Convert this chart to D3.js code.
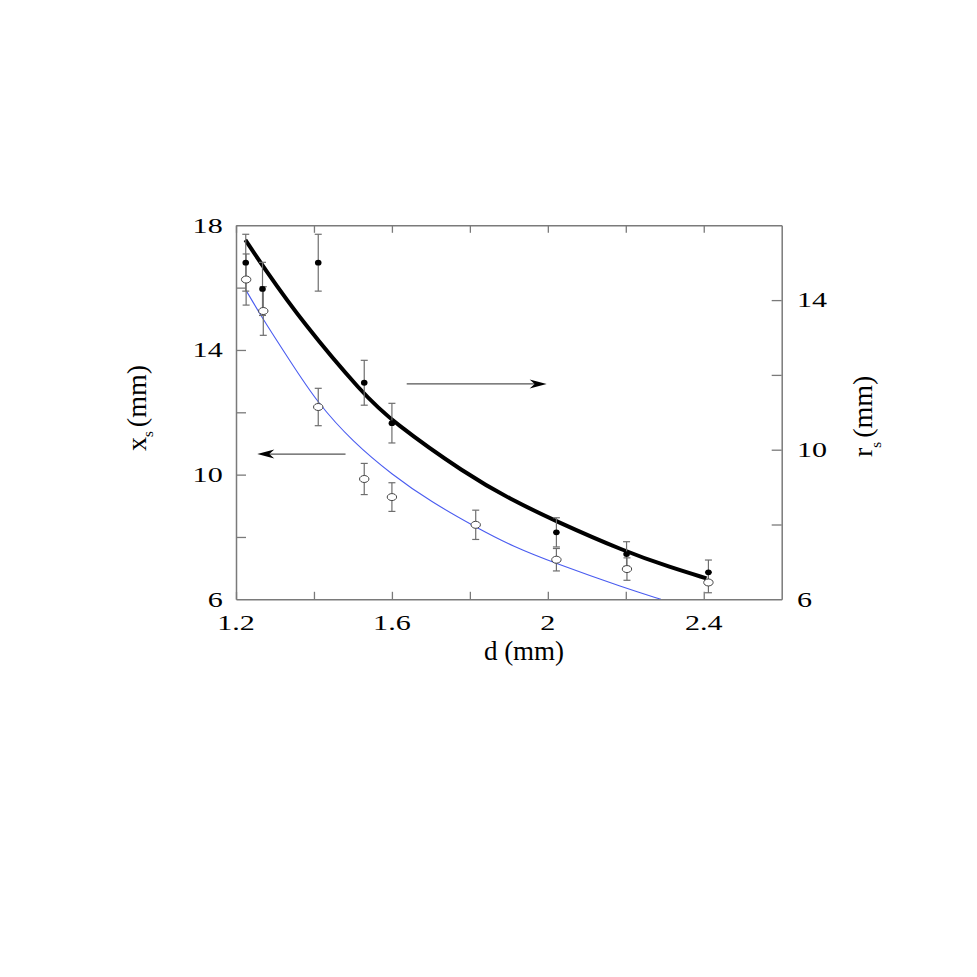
<!DOCTYPE html>
<html>
<head>
<meta charset="utf-8">
<script src="https://cdn.jsdelivr.net/npm/d3@7"></script>
<style>
  html, body { margin: 0; padding: 0; background: #fff; }
  svg { display: block; }
</style>
</head>
<body>
<svg id="chart" width="977" height="977"></svg>
<script>
// ---------- data ----------
// filled points: r_s (right axis)
const dFilled = [1.225, 1.268, 1.411, 1.529, 1.600, 2.022, 2.202, 2.412];
const rFilled = [15.00, 14.30, 15.00, 11.79, 10.71, 7.79, 7.21, 6.72];
const rErr    = [0.76, 0.71, 0.76, 0.60, 0.53, 0.39, 0.33, 0.33];

// open points: x_s (left axis)
const dOpen  = [1.226, 1.270, 1.411, 1.529, 1.600, 1.815, 2.022, 2.203, 2.412];
const xsOpen = [16.26, 15.25, 12.17, 9.86, 9.28, 8.39, 7.27, 6.97, 6.54];
const xsErr  = [0.82, 0.78, 0.60, 0.50, 0.46, 0.47, 0.36, 0.36, 0.33];

// fitted curve for r_s (thick black, right axis)
const dFitR = [1.224, 1.270, 1.371, 1.525, 1.602, 1.790, 1.903, 2.020, 2.200, 2.313, 2.407];
const rFit  = [15.61, 14.89, 13.40, 11.50, 10.74, 9.35, 8.68, 8.09, 7.27, 6.86, 6.56];

// fitted curve for x_s (thin blue, left axis)
const dFitX = [1.226, 1.268, 1.337, 1.409, 1.500, 1.600, 1.700, 1.817, 1.911, 2.020, 2.200, 2.290];
const xsFit = [15.91, 15.01, 13.68, 12.30, 11.05, 10.00, 9.13, 8.30, 7.69, 7.15, 6.35, 6.00];

// ticks and labels
const xTicks = [1.2, 1.4, 1.6, 1.8, 2.0, 2.2, 2.4];
const xLabels = [1.2, 1.6, 2.0, 2.4];
const yLeftTicks = [8, 10, 12, 14, 16];
const yLeftLabels = [6, 10, 14, 18];
const yRightTicks = [8, 10, 12, 14];
const yRightLabels = [6, 10, 14];

// annotation arrows (data coords)
const arrowRight = {from: 1.638, to: 1.997, y: 11.76};    // points to right axis
const arrowLeft  = {from: 1.481, to: 1.2546, y: 10.66};   // points to left axis

// ---------- layout ----------
const L = 236, R = 781.7, T = 225.3, B = 599.3;
const svg = d3.select("#chart");
svg.append("rect").attr("width", 977).attr("height", 977).attr("fill", "#fff");

const x  = d3.scaleLinear().domain([1.2, 2.6]).range([L, R]);
const yL = d3.scaleLinear().domain([6, 18]).range([B, T]);
const yR = d3.scaleLinear().domain([6, 16]).range([B, T]);

const axisColor = "#7a7a7a";
const fontFam = "'Liberation Serif', 'Times New Roman', serif";

function styleAxis(g) {
  g.selectAll("path.domain").attr("stroke", axisColor).attr("stroke-width", 1.5);
  g.selectAll(".tick line").attr("stroke", axisColor).attr("stroke-width", 1.3);
  g.selectAll(".tick text").remove();
}

svg.append("g").attr("transform", `translate(0,${B})`)
  .call(d3.axisBottom(x).tickValues(xTicks).tickSizeInner(-7.5).tickSizeOuter(0).tickFormat(""))
  .call(styleAxis);
svg.append("g").attr("transform", `translate(0,${T})`)
  .call(d3.axisTop(x).tickValues(xTicks).tickSizeInner(-7.5).tickSizeOuter(0).tickFormat(""))
  .call(styleAxis);
svg.append("g").attr("transform", `translate(${L},0)`)
  .call(d3.axisLeft(yL).tickValues(yLeftTicks).tickSizeInner(-10).tickSizeOuter(0).tickFormat(""))
  .call(styleAxis);
svg.append("g").attr("transform", `translate(${R},0)`)
  .call(d3.axisRight(yR).tickValues(yRightTicks).tickSizeInner(-10).tickSizeOuter(0).tickFormat(""))
  .call(styleAxis);

// tick labels (horizontally stretched serif digits)
const SX = 1.4, FS = 21.5;
svg.append("g").selectAll("text").data(xLabels).join("text")
  .attr("transform", d => `translate(${x(d)},630) scale(${SX},1)`)
  .attr("text-anchor", "middle")
  .attr("font-family", fontFam).attr("font-size", FS).attr("fill", "#000")
  .text(d => String(d));
svg.append("g").selectAll("text").data(yLeftLabels).join("text")
  .attr("transform", d => `translate(222.7,${yL(d)}) scale(${SX},1)`)
  .attr("text-anchor", "end").attr("dy", "0.34em")
  .attr("font-family", fontFam).attr("font-size", FS).attr("fill", "#000")
  .text(d => String(d));
svg.append("g").selectAll("text").data(yRightLabels).join("text")
  .attr("transform", d => `translate(797,${yR(d)}) scale(${SX},1)`)
  .attr("text-anchor", "start").attr("dy", "0.34em")
  .attr("font-family", fontFam).attr("font-size", FS).attr("fill", "#000")
  .text(d => String(d));

// axis titles
svg.append("text")
  .attr("x", 524).attr("y", 660).attr("text-anchor", "middle")
  .attr("font-family", fontFam).attr("font-size", 27).attr("fill", "#000")
  .text("d (mm)");

function rotTitle(tx, ty, main, subDy) {
  const t = svg.append("text")
    .attr("transform", `translate(${tx},${ty}) rotate(-90)`)
    .attr("text-anchor", "start")
    .attr("font-family", fontFam).attr("font-size", 28).attr("fill", "#000");
  t.append("tspan").text(main);
  t.append("tspan").attr("font-size", 15).attr("dy", subDy).text("s");
  t.append("tspan").attr("dy", -subDy).attr("dx", 4).text("(mm)");
}
rotTitle(146, 451, "x", 7);
rotTitle(872, 457, "r", 9);

// clip
svg.append("clipPath").attr("id", "plotClip")
  .append("rect").attr("x", L).attr("y", T).attr("width", R - L).attr("height", B - T);

// curves
const blueData = dFitX.map((d, i) => [d, xsFit[i]]);
const blackData = dFitR.map((d, i) => [d, rFit[i]]);
svg.append("path").datum(blueData)
  .attr("clip-path", "url(#plotClip)")
  .attr("fill", "none").attr("stroke", "#4a5cf0").attr("stroke-width", 1.1)
  .attr("d", d3.line().x(d => x(d[0])).y(d => yL(d[1])).curve(d3.curveBasis));
svg.append("path").datum(blackData)
  .attr("fill", "none").attr("stroke", "#000").attr("stroke-width", 4)
  .attr("d", d3.line().x(d => x(d[0])).y(d => yR(d[1])).curve(d3.curveBasis));

// error bars
const errColor = "#6e6e6e";
function errorBars(ds, vs, es, ys) {
  const g = svg.append("g").attr("stroke", errColor).attr("stroke-width", 1.2);
  ds.forEach((d, i) => {
    const cx = x(d), y0 = ys(vs[i] - es[i]), y1 = ys(vs[i] + es[i]);
    g.append("line").attr("x1", cx).attr("x2", cx).attr("y1", y0).attr("y2", y1);
    g.append("line").attr("x1", cx - 3.5).attr("x2", cx + 3.5).attr("y1", y0).attr("y2", y0);
    g.append("line").attr("x1", cx - 3.5).attr("x2", cx + 3.5).attr("y1", y1).attr("y2", y1);
  });
}
errorBars(dFilled, rFilled, rErr, yR);
errorBars(dOpen, xsOpen, xsErr, yL);

// points
svg.append("g").selectAll("ellipse").data(dOpen.map((d, i) => [d, xsOpen[i]])).join("ellipse")
  .attr("cx", d => x(d[0])).attr("cy", d => yL(d[1]))
  .attr("rx", 4.7).attr("ry", 3.5)
  .attr("fill", "#fff").attr("stroke", "#444").attr("stroke-width", 1);
svg.append("g").selectAll("ellipse").data(dFilled.map((d, i) => [d, rFilled[i]])).join("ellipse")
  .attr("cx", d => x(d[0])).attr("cy", d => yR(d[1]))
  .attr("rx", 3.3).attr("ry", 2.9)
  .attr("fill", "#000");

// arrows
function arrow(x0, x1, yy) {
  const dir = Math.sign(x1 - x0);
  svg.append("line").attr("x1", x0).attr("x2", x1 - dir * 10).attr("y1", yy).attr("y2", yy)
    .attr("stroke", "#555").attr("stroke-width", 1.3);
  const p = d3.path();
  p.moveTo(x1, yy);
  p.lineTo(x1 - dir * 17, yy - 4.5);
  p.lineTo(x1 - dir * 12, yy);
  p.lineTo(x1 - dir * 17, yy + 4.5);
  p.closePath();
  svg.append("path").attr("d", p.toString()).attr("fill", "#000");
}
arrow(x(arrowRight.from), x(arrowRight.to), yR(arrowRight.y));
arrow(x(arrowLeft.from), x(arrowLeft.to), yL(arrowLeft.y));
</script>
</body>
</html>
